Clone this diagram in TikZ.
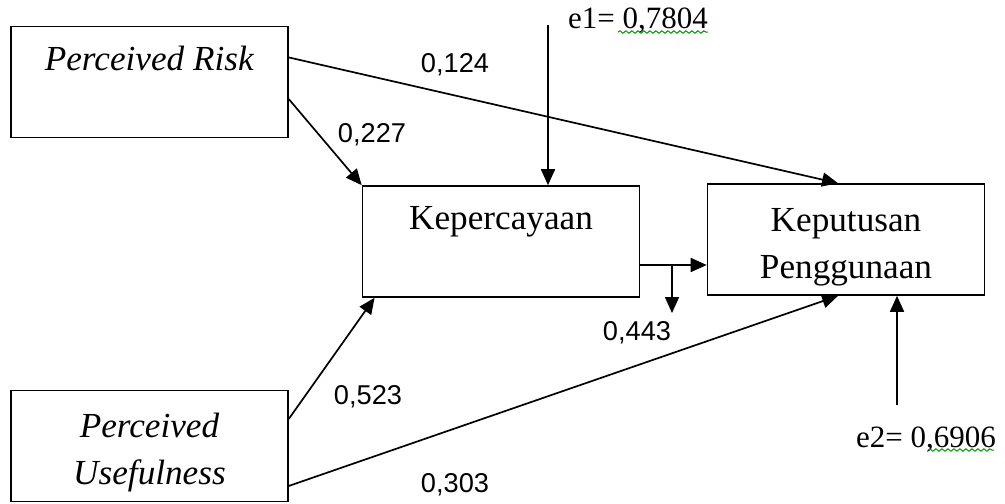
\documentclass[tikz,border=0pt]{standalone}
\usepackage{fontspec}
\setmainfont{Liberation Serif}
\setsansfont{Liberation Sans}
\usetikzlibrary{arrows.meta}
\usetikzlibrary{decorations.pathmorphing}
\newcommand{\toprule}{\rule{0pt}{19pt}}

\begin{document}
\begin{tikzpicture}[x=0.5pt,y=-0.5pt,
  box/.style={draw,line width=0.8pt,minimum width=138.5pt,minimum height=55.5pt,
    align=center,inner sep=0pt,font=\fontsize{17.6}{23.5}\selectfont},
  coef/.style={font=\sffamily\fontsize{13.6}{16}\selectfont},
  err/.style={font=\fontsize{15.5}{18}\selectfont},
  link/.style={line width=0.85pt,-{Triangle[length=8pt,width=7pt]}},
  wavy/.style={green!60!black,line width=0.5pt,
    decorate,decoration={snake,amplitude=0.6pt,segment length=3pt}}]
  \useasboundingbox (0,0) rectangle (1005,503);
  % variables
  \node[box] (risk) at (149.5,82) {\toprule\textit{Perceived Risk}\\ \strut};
  \node[box] (use) at (149.5,446) {\toprule\textit{Perceived}\\ \textit{Usefulness}};
  \node[box] (trust) at (501,241.5) {\toprule Kepercayaan\\ \strut};
  \node[box] (decision) at (846,239.5) {\toprule Keputusan\\ Penggunaan};
  % error terms
  \coordinate (e1) at (548,25);
  \coordinate (e2) at (897,405);
  \node[err,anchor=west] (e1lab) at (561,21) {e1= 0,7804};
  \node[err] (e2lab) at (926,440) {e2= 0,6906};
  \draw[wavy] (618,32) -- (708,32);
  \draw[wavy] (928,450) -- (994,450);
  % paths
  \draw[link] (risk.10) -- ([xshift=-4pt]decision.north);
  \draw[link] (risk.-7) -- (trust.north west);
  \draw[link] (e1) -- (e1 |- trust.north);
  \coordinate (split) at (672,265);
  \coordinate (splitend) at (672,313);
  \draw[link] (trust.east |- split) -- (decision.west |- split);
  \draw[link] (split) -- (splitend);
  \draw[link] (use.11) -- (trust.204);
  \draw[link] (use.-16) -- (decision.262);
  \draw[link] (e2) -- (e2 |- decision.south);
  % coefficients
  \node[coef] (c1) at (455,65) {0,124};
  \node[coef] (c2) at (372,135) {0,227};
  \node[coef] (c3) at (637,333) {0,443};
  \node[coef] (c4) at (368,397) {0,523};
  \node[coef] (c5) at (455,485) {0,303};
\end{tikzpicture}
\end{document}
